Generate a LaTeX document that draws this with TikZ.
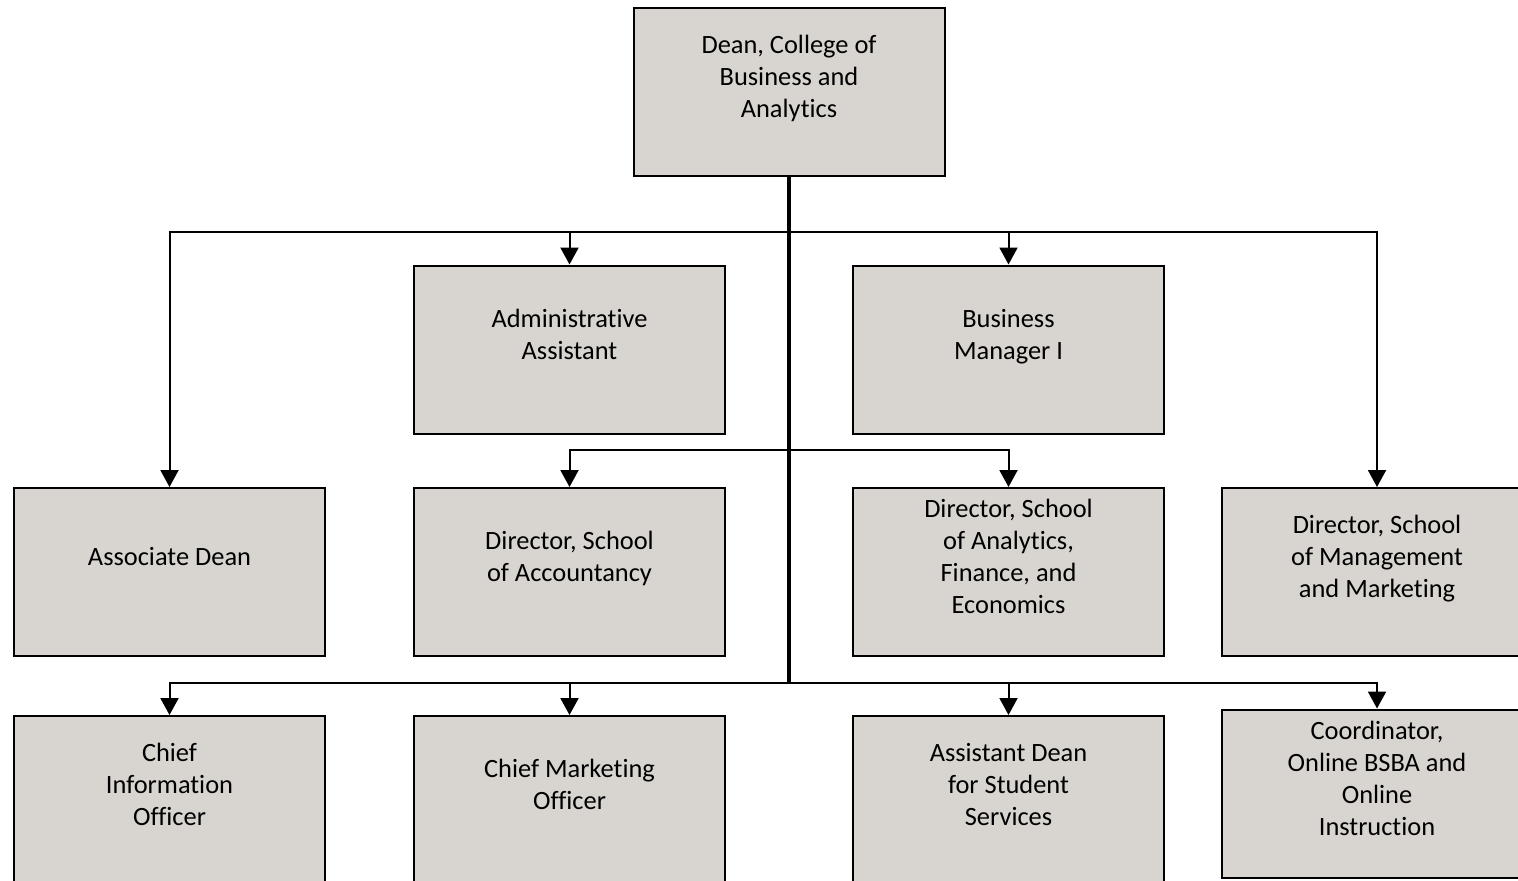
\documentclass[tikz,border=0pt]{standalone}
\usepackage{fontspec}
\setmainfont{Carlito}[Ligatures=CommonOff]
\usetikzlibrary{arrows.meta}
\definecolor{boxgray}{RGB}{216,212,207}
\tikzset{
	box/.style={draw=black, line width=1pt, fill=boxgray, minimum width=155.5pt, minimum height=84pt,
		align=center, inner sep=2pt, font=\fontsize{13.2}{16}\selectfont, text depth=15.3pt},
	link/.style={line width=1pt, -{Triangle[length=8.5pt,width=9pt]}},
	trunk/.style={line width=1.6pt}
}

\begin{document}
\begin{tikzpicture}[x=0.5pt,y=-0.5pt]
	\useasboundingbox (0,0) rectangle (1518,880);
	% top
	\node[box] (dean) at (789,92) {Dean, College of\\Business and\\Analytics};
	% second row
	\node[box] (admin) at (569.5,349.5) {Administrative\\Assistant};
	\node[box] (busmgr) at (1008.5,349.5) {Business\\Manager I};
	% third row
	\node[box] (assoc) at (169.5,572) {Associate Dean};
	\node[box] (acct) at (569.5,572) {Director, School\\of Accountancy};
	\node[box] (afe) at (1008.5,572) {Director, School\\of Analytics,\\Finance, and\\Economics};
	\node[box] (mgmt) at (1377,572) {Director, School\\of Management\\and Marketing};
	% bottom row
	\node[box] (cio) at (169.5,800) {Chief\\Information\\Officer};
	\node[box] (cmo) at (569.5,800) {Chief Marketing\\Officer};
	\node[box] (asst) at (1008.5,800) {Assistant Dean\\for Student\\Services};
	\node[box] (coord) at (1377,793.5) {Coordinator,\\Online BSBA and\\Online\\Instruction};

	\coordinate (bus1) at (789,232);
	\coordinate (bus2) at (789,450);
	\coordinate (bus3) at (789,683);

	\draw[trunk] (dean.south) -- (bus3);
	\draw[link] (bus1) -| (assoc.north);
	\draw[link] (bus1) -| (admin.north);
	\draw[link] (bus1) -| (busmgr.north);
	\draw[link] (bus1) -| (mgmt.north);
	\draw[link] (bus2) -| (acct.north);
	\draw[link] (bus2) -| (afe.north);
	\draw[link] (bus3) -| (cio.north);
	\draw[link] (bus3) -| (cmo.north);
	\draw[link] (bus3) -| (asst.north);
	\draw[link] (bus3) -| (coord.north);
\end{tikzpicture}
\end{document}
